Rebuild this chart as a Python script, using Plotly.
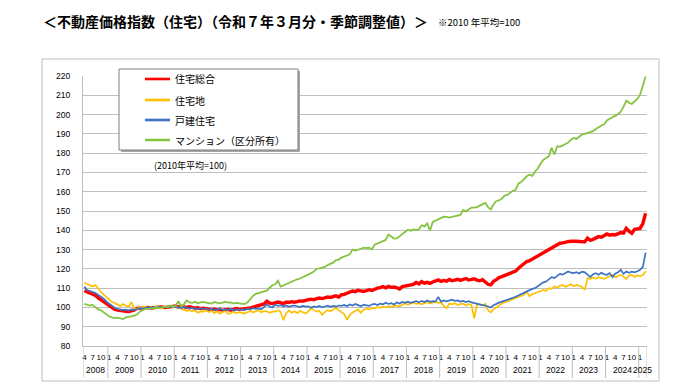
import plotly.graph_objects as go

# ---------------- data (monthly, Apr 2008 - Mar 2025, seasonally adjusted, 2010 avg = 100)
year_labels = ["2008", "2009", "2010", "2011", "2012", "2013", "2014", "2015", "2016",
               "2017", "2018", "2019", "2020", "2021", "2022", "2023", "2024", "2025"]
first_month = [4] + [1] * 17
months_per_year = [9] + [12] * 16 + [3]
month_tick_values = [1, 4, 7, 10]

total = [  # 住宅総合
    108.7, 108.0, 107.5, 107.0, 106.2, 105.0, 104.0, 103.0, 101.8,
    100.7, 99.8, 99.0, 98.6, 98.3, 98.2, 98.0, 97.9, 98.2, 98.6, 99.5, 99.8,
    99.6, 99.8, 100.0, 99.7, 99.9, 100.0, 100.1, 100.3, 99.9, 100.2, 100.4, 100.6,
    100.7, 100.2, 100.6, 100.3, 100.0, 100.4, 100.0, 99.6, 99.8, 99.4, 99.6, 99.2,
    99.0, 98.8, 99.2, 98.6, 99.0, 98.4, 98.8, 99.0, 98.6, 99.2, 99.4, 99.0,
    99.2, 99.0, 99.5, 99.8, 100.2, 100.5, 100.9, 101.3, 101.8, 103.2, 102.2, 102.0,
    102.3, 102.8, 102.5, 102.0, 102.8, 102.6, 103.0, 102.7, 103.0, 103.4, 103.2, 103.8,
    104.0, 104.3, 104.0, 104.6, 104.9, 104.6, 105.0, 105.4, 105.2, 105.6, 106.0, 105.4,
    106.6, 106.8, 107.4, 108.0, 108.5, 108.2, 108.9, 108.6, 108.3, 108.7, 109.2, 108.8,
    109.5, 110.0, 110.3, 110.8, 110.2, 110.9, 110.4, 110.6, 110.2, 109.6, 110.8, 111.0,
    111.2, 111.5, 112.0, 112.9, 112.2, 113.4, 112.6, 113.0, 112.5, 113.2, 113.8, 114.3,
    113.5, 114.0, 113.6, 114.5, 113.8, 114.2, 114.6, 114.0, 114.4, 115.0, 114.2, 114.6,
    114.8, 114.2, 113.8, 114.4, 113.0, 112.0, 111.7, 113.5, 114.4, 115.5, 116.0, 116.5,
    117.0, 117.5, 118.1, 118.8, 120.3, 121.5, 122.5, 123.8, 124.2, 125.0, 125.8, 126.5,
    127.2, 128.0, 129.0, 129.8, 130.8, 131.6, 132.2, 133.3, 133.5, 134.0, 134.1, 134.3,
    134.5, 134.3, 134.2, 134.1, 134.0, 135.9, 134.8, 135.3, 136.0, 136.7, 136.4, 137.2,
    138.1, 137.5, 137.8, 137.6, 138.3, 138.8, 138.5, 141.0, 139.5, 138.4, 140.5, 140.8,
    141.0, 143.5, 148.8,
]

land = [  # 住宅地
    112.8, 112.2, 111.8, 110.8, 111.6, 109.5, 108.0, 106.6, 105.3,
    104.0, 102.8, 102.3, 101.5, 100.8, 101.8, 101.2, 100.2, 102.8, 99.5, 99.2, 100.6,
    99.8, 100.5, 99.6, 100.3, 99.2, 100.8, 100.0, 99.4, 100.2, 100.6, 100.3, 99.8,
    100.6, 99.8, 99.2, 98.8, 98.2, 98.6, 98.0, 98.4, 97.2, 98.0, 97.8, 98.4,
    97.6, 98.2, 97.0, 98.0, 96.8, 97.6, 98.2, 96.6, 97.4, 97.8, 97.0, 97.6,
    97.2, 96.8, 97.6, 98.2, 97.4, 98.0, 98.6, 97.4, 98.2, 98.0, 97.2, 97.8,
    97.8, 98.6, 97.6, 93.4, 97.0, 98.4, 97.2, 98.0, 97.0, 98.2, 97.6, 96.8,
    98.0, 99.6, 98.6, 97.8, 98.2, 96.2, 97.6, 98.6, 98.0, 99.0, 99.8, 98.6,
    97.6, 96.6, 93.6, 96.0, 97.4, 98.4, 99.0, 97.2, 98.8, 99.4, 99.0, 99.6,
    99.6, 100.2, 99.8, 100.4, 100.0, 100.6, 100.2, 100.8, 101.0, 100.6, 101.6, 102.2,
    101.4, 102.0, 102.6, 101.8, 102.2, 101.6, 102.4, 102.8, 102.0, 102.6, 103.0, 102.4,
    102.6, 100.8, 99.6, 102.0, 101.6, 102.2, 101.2, 101.8, 102.0, 101.0, 101.8, 101.2,
    94.4, 101.4, 101.6, 101.0, 101.8, 98.6, 97.4, 99.0, 100.2, 101.0, 102.0, 102.6,
    103.0, 103.6, 104.2, 104.7, 105.2, 105.8, 106.6, 108.2, 105.8, 106.8, 107.4, 107.8,
    108.3, 109.0, 108.6, 110.0, 109.6, 110.9, 110.2, 111.2, 111.7, 110.6, 111.4, 112.0,
    111.0, 111.7, 111.2, 110.6, 109.1, 115.2, 114.8, 115.4, 115.0, 115.7, 115.2, 114.8,
    115.5, 116.2, 116.9, 115.6, 116.2, 116.9, 116.0, 114.7, 116.6, 116.9, 115.8, 116.6,
    116.2, 116.8, 118.8,
]

house = [  # 戸建住宅
    110.8, 109.0, 108.5, 108.0, 107.5, 106.5, 105.5, 104.5, 103.0,
    101.8, 100.6, 99.8, 99.2, 98.8, 98.6, 98.8, 98.4, 99.0, 98.6, 99.2, 99.6,
    99.4, 99.8, 100.0, 99.9, 100.2, 99.8, 100.3, 100.1, 100.0, 100.4, 100.2, 100.5,
    100.2, 100.0, 99.6, 100.3, 99.8, 99.4, 99.8, 99.5, 99.0, 99.6, 99.2, 99.4,
    98.8, 99.3, 98.6, 98.9, 99.5, 98.5, 99.0, 98.7, 99.2, 98.4, 99.0, 98.8,
    99.0, 98.6, 99.3, 99.0, 99.6, 99.2, 99.5, 99.0, 100.3, 101.5, 100.5, 100.0,
    101.5, 100.8, 101.2, 100.5, 101.0, 100.3, 100.8, 101.0, 100.6, 100.2, 100.8, 100.4,
    100.6, 99.8, 100.5, 100.2, 100.8, 100.0, 100.5, 100.9, 100.3, 100.8, 100.4, 101.0,
    100.8, 101.3, 100.6, 101.5, 101.0, 101.8, 101.2, 100.6, 101.4, 101.0, 100.8, 101.5,
    101.8, 101.2, 102.0, 101.6, 102.4, 101.8, 102.2, 101.5, 102.6, 102.0, 102.8, 102.4,
    103.0, 102.4, 102.8, 103.2, 102.6, 103.4, 102.8, 103.6, 102.9, 103.3, 103.0, 105.5,
    103.0, 103.6, 103.2, 103.8, 104.0, 103.4, 103.6, 103.0, 103.4, 102.8, 103.2, 102.6,
    102.2, 101.8, 101.5, 101.2, 101.0, 100.4, 100.0, 101.2, 102.0, 102.5, 103.0, 103.6,
    104.0, 104.5, 105.0, 105.5, 106.2, 107.0, 107.5, 108.2, 109.0, 109.6, 110.0, 111.0,
    112.0, 113.0, 113.4, 114.5, 115.7, 115.2, 116.2, 117.4, 117.0, 117.8, 118.6, 118.0,
    117.8, 118.3, 117.6, 118.6, 118.2, 117.0, 115.7, 117.2, 117.8, 117.0, 118.0, 117.2,
    116.9, 117.8, 115.7, 117.5, 118.2, 119.5, 117.4, 118.6, 118.0, 118.6, 118.2, 118.8,
    119.5, 121.0, 128.4,
]

condo = [  # マンション（区分所有）
    101.8, 101.2, 101.0, 101.3, 100.2, 99.0, 98.5, 97.5, 96.5,
    95.3, 94.8, 94.5, 94.7, 94.3, 94.0, 94.8, 95.0, 95.3, 95.8, 96.3, 97.8,
    98.5, 99.2, 99.3, 99.5, 99.4, 99.8, 99.6, 100.2, 100.4, 100.1, 101.0, 100.6,
    100.8, 103.2, 100.4, 101.6, 103.6, 102.6, 102.4, 103.0, 102.1, 102.6, 102.9, 102.5,
    102.3, 102.0, 102.8, 102.6, 102.1, 102.5, 103.0, 102.5, 102.6, 102.0, 102.4, 102.1,
    101.8, 101.8, 102.6, 104.5, 106.0, 107.0, 107.5, 108.0, 108.4, 108.7, 110.2, 111.5,
    112.0, 113.8, 110.8, 111.5, 112.0, 112.6, 113.3, 114.2, 114.6, 115.0, 115.6, 116.3,
    117.2, 117.8, 118.6, 120.0, 120.3, 120.6, 121.0, 122.0, 122.8, 123.2, 124.5, 124.8,
    125.8, 126.3, 126.6, 127.5, 130.0, 129.5, 130.0, 130.3, 131.0, 130.8, 131.0, 130.2,
    132.5, 133.2, 133.5, 134.2, 135.0, 137.8, 136.5, 135.7, 135.8, 137.0, 138.3, 139.0,
    140.3, 139.8, 140.4, 140.2, 140.5, 142.6, 142.0, 143.6, 139.8, 144.3, 145.0, 145.8,
    146.5, 147.1, 146.9, 146.6, 146.9, 147.2, 147.5, 148.0, 150.5, 149.8, 150.8, 151.7,
    151.7, 152.0, 152.8, 153.5, 154.2, 152.0, 150.8, 153.5, 155.2, 155.5, 156.4, 158.0,
    158.3, 159.5, 160.5, 161.0, 164.3, 165.0, 166.4, 168.0, 168.8, 168.2, 170.5, 172.0,
    174.5, 176.5, 177.5, 178.4, 182.8, 179.3, 183.6, 183.3, 184.0, 184.8, 185.5, 187.0,
    187.9, 187.4, 188.5, 189.7, 190.0, 190.5, 191.0, 191.4, 192.5, 193.5, 194.3, 195.0,
    197.0, 197.8, 198.4, 199.3, 200.2, 201.5, 204.0, 207.2, 206.2, 205.5, 206.8, 208.1,
    210.3, 214.5, 219.8,
]

series_names = ["住宅総合", "住宅地", "戸建住宅", "マンション（区分所有）"]
series_values = [total, land, house, condo]
series_colors = ["#FF0000", "#FFC000", "#3D72C2", "#84C441"]
series_widths = [3.4, 1.7, 1.7, 1.8]

title_text = "＜不動産価格指数（住宅）（令和７年３月分・季節調整値）＞"
note_text = "※2010 年平均=100"
base_text = "(2010年平均=100)"

# ---------------- layout helpers (pixel geometry of the 700x392 canvas)
W, H = 700, 392
ML, MR, MT, MB = 83, 53, 76, 46
PW, PH = W - ML - MR, H - MT - MB


def px(xp):
    return (xp - ML) / PW


def py(yp):
    return (H - MB - yp) / PH


FONT = "Liberation Sans, Arial, Noto Sans CJK JP"
JFONT = "Noto Sans CJK JP, Liberation Sans"

# periods
periods = []
for yl, fm, n in zip(year_labels, first_month, months_per_year):
    for k in range(n):
        periods.append((yl, fm + k))
xs = list(range(len(periods)))

tickvals = [i for i, (_, m) in enumerate(periods) if m in month_tick_values]
ticktext = [str(periods[i][1]) for i in tickvals]

fig = go.Figure()
for name, vals, col, wd in zip(series_names, series_values, series_colors, series_widths):
    fig.add_trace(go.Scatter(x=xs, y=vals, mode="lines", name=name,
                             line=dict(color=col, width=wd), showlegend=False,
                             hoverinfo="skip"))

shapes = []
annotations = []

# outer chart frame
shapes.append(dict(type="rect", xref="paper", yref="paper", x0=px(42), x1=px(659),
                   y0=py(381), y1=py(59), line=dict(color="#BFBFBF", width=1),
                   fillcolor="rgba(0,0,0,0)", layer="below"))

# year separators and year labels
start = 0
bounds = []
for yl, n in zip(year_labels, months_per_year):
    bounds.append((start, start + n, yl))
    start += n
for s, e, yl in bounds:
    shapes.append(dict(type="line", xref="x", yref="paper", x0=s - 0.5, x1=s - 0.5,
                       y0=py(378), y1=py(347), line=dict(color="#BFBFBF", width=1)))
    annotations.append(dict(x=(s + e - 1) / 2, y=py(370), xref="x", yref="paper",
                            text=yl, showarrow=False, font=dict(size=8.5, family=FONT, color="#000"),
                            xanchor="center", yanchor="middle"))
shapes.append(dict(type="line", xref="x", yref="paper", x0=len(xs) - 0.5, x1=len(xs) - 0.5,
                   y0=py(378), y1=py(347), line=dict(color="#BFBFBF", width=1)))

# white box behind base note
shapes.append(dict(type="rect", xref="paper", yref="paper", x0=px(147), x1=px(260),
                   y0=py(177), y1=py(157), line=dict(width=0), fillcolor="white",
                   layer="between"))
annotations.append(dict(x=px(152), y=py(165), xref="paper", yref="paper", text=base_text,
                        showarrow=False, xanchor="left", yanchor="middle",
                        font=dict(size=9, family=JFONT, color="#000")))

# manual legend
shapes.append(dict(type="rect", xref="paper", yref="paper", x0=px(121), x1=px(300),
                   y0=py(152), y1=py(71), line=dict(width=0), fillcolor="#A6A6A6",
                   layer="above"))
shapes.append(dict(type="rect", xref="paper", yref="paper", x0=px(119), x1=px(298),
                   y0=py(150), y1=py(69), line=dict(color="#7F7F7F", width=1),
                   fillcolor="white", layer="above"))
legend_rows = [79, 100, 120, 140]
for name, col, ry in zip(series_names, series_colors, legend_rows):
    shapes.append(dict(type="line", xref="paper", yref="paper", x0=px(145), x1=px(170),
                       y0=py(ry), y1=py(ry), line=dict(color=col, width=2.6),
                       layer="above"))
    annotations.append(dict(x=px(173), y=py(ry), xref="paper", yref="paper", text=name,
                            showarrow=False, xanchor="left", yanchor="middle",
                            font=dict(size=10, family=JFONT, color="#000")))

# title and note
annotations.append(dict(x=px(41), y=py(21), xref="paper", yref="paper",
                        text="<b>" + title_text + "</b>", showarrow=False,
                        xanchor="left", yanchor="middle",
                        font=dict(size=14, family=JFONT, color="#000")))
annotations.append(dict(x=px(436), y=py(22), xref="paper", yref="paper",
                        text=note_text, showarrow=False, xanchor="left", yanchor="middle",
                        font=dict(size=9.5, family=JFONT, color="#000")))

fig.update_layout(
    width=W, height=H,
    margin=dict(l=ML, r=MR, t=MT, b=MB, pad=0),
    paper_bgcolor="white", plot_bgcolor="white",
    showlegend=False,
    shapes=shapes, annotations=annotations,
    xaxis=dict(range=[-0.5, len(xs) - 0.5], showgrid=False, zeroline=False,
               tickmode="array", tickvals=tickvals, ticktext=ticktext, tickangle=0,
               tickfont=dict(size=8, family=FONT, color="#000"), ticks="",
               ticklabelstandoff=3,
               showline=True, linecolor="#BFBFBF", linewidth=1, fixedrange=True),
    yaxis=dict(range=[80, 220], dtick=10, tick0=80, showgrid=True, gridcolor="#BFBFBF",
               gridwidth=1.2, zeroline=False, showline=True, linecolor="#BFBFBF",
               linewidth=1, ticks="", ticklabelstandoff=10,
               tickfont=dict(size=8.5, family=FONT, color="#000"), fixedrange=True),
)

fig.write_html("out.html", config={"displayModeBar": False},
               post_script="document.body.style.margin='0';document.body.style.overflow='hidden';")
